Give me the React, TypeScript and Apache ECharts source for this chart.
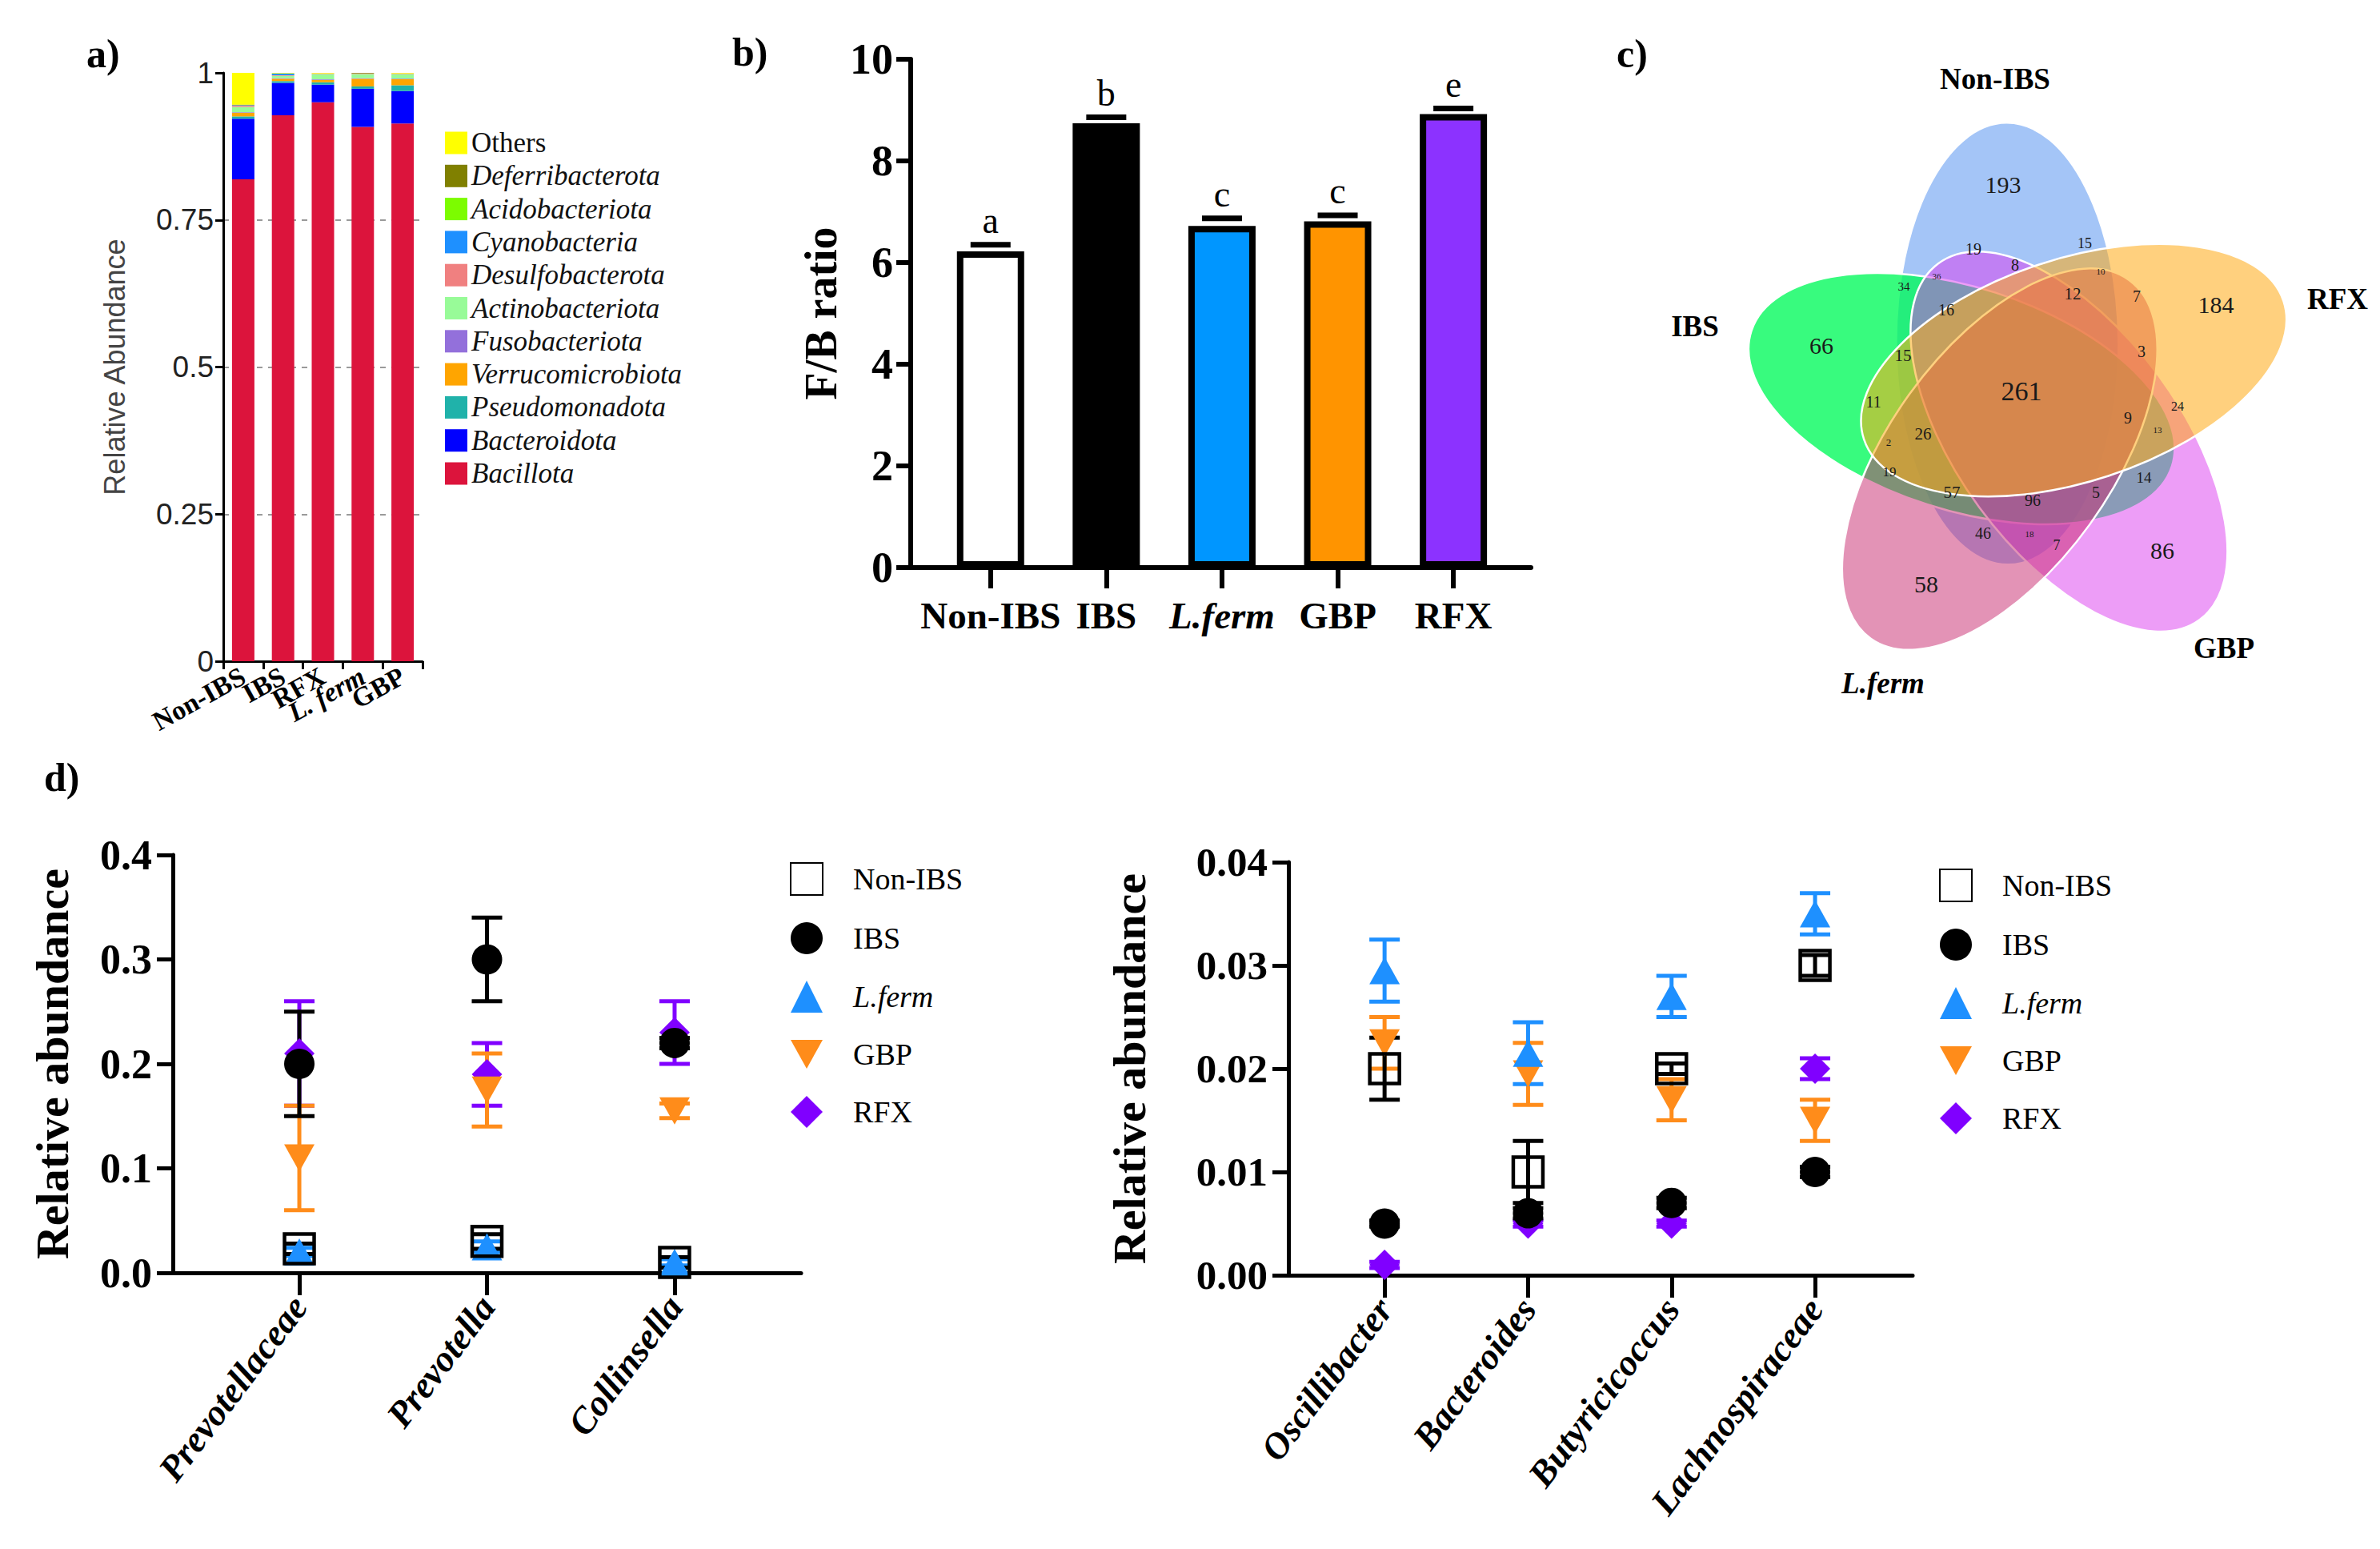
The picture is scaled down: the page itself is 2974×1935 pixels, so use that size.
import React, { useEffect, useRef } from 'react';
import * as echarts from 'echarts';

const SERIF = 'Liberation Serif';
const SANS = 'Liberation Sans';

// ---------- a) relative abundance of phyla ----------
const groupsA = ['Non-IBS', 'IBS', 'RFX', 'L. ferm', 'GBP'];
const phylumNames = ['Bacillota', 'Bacteroidota', 'Pseudomonadota', 'Verrucomicrobiota', 'Fusobacteriota', 'Actinobacteriota', 'Desulfobacterota', 'Cyanobacteria', 'Acidobacteriota', 'Deferribacterota', 'Others'];
const bacillota = [0.819, 0.928, 0.95, 0.908, 0.914];
const bacteroidota = [0.103, 0.055, 0.03, 0.065, 0.055];
const pseudomonadota = [0.004, 0.003, 0.004, 0.004, 0.01];
const verrucomicrobiota = [0.006, 0.004, 0.004, 0.013, 0.01];
const fusobacteriota = [0.001, 0.001, 0.001, 0.001, 0.001];
const actinobacteriota = [0.009, 0.004, 0.009, 0.007, 0.008];
const desulfobacterota = [0.002, 0.001, 0.001, 0.001, 0.001];
const cyanobacteria = [0.001, 0.003, 0.0, 0.0, 0.0];
const acidobacteriota = [0.0, 0.0, 0.0, 0.0, 0.0];
const deferribacterota = [0.001, 0.0, 0.0, 0.001, 0.0];
const others = [0.054, 0.001, 0.001, 0.0, 0.001];
const phylumValues = [bacillota, bacteroidota, pseudomonadota, verrucomicrobiota, fusobacteriota, actinobacteriota, desulfobacterota, cyanobacteria, acidobacteriota, deferribacterota, others];
const phylumColors = ['#dc143c', '#0000ff', '#20b2aa', '#ffa500', '#9370db', '#98fb98', '#f08080', '#1e90ff', '#7cfc00', '#808000', '#ffff00'];

// ---------- b) F/B ratio ----------
const groupsB = ['Non-IBS', 'IBS', 'L.ferm', 'GBP', 'RFX'];
const fbRatio = [6.22, 8.74, 6.72, 6.81, 8.92];
const fbErr = [0.13, 0.12, 0.15, 0.12, 0.11];
const fbLetters = ['a', 'b', 'c', 'c', 'e'];
const fbColors = ['#ffffff', '#000000', '#0096ff', '#ff9400', '#8c32ff'];

// ---------- c) Venn diagram ----------
const vennSets = ['Non-IBS', 'RFX', 'GBP', 'L.ferm', 'IBS'];
const vennColors = ['rgba(90,150,240,0.55)', 'rgba(255,170,20,0.55)', 'rgba(220,60,240,0.5)', 'rgba(200,40,110,0.5)', 'rgba(0,250,90,0.78)'];
const vennDrawOrder = [0, 4, 2, 3, 1];
const vennCounts = [193, 184, 66, 86, 58, 261, 19, 15, 8, 10, 34, 36, 12, 7, 16, 15, 3, 11, 9, 24, 13, 26, 2, 19, 57, 96, 5, 14, 46, 18, 7];
const vennCountPos = [
  [-0.24, -2.73], [2.42, -1.23], [-2.51, -0.72], [1.75, 1.84], [-1.2, 2.26], [-0.01, -0.15],
  [-0.61, -1.92], [0.78, -1.99], [-0.09, -1.72], [0.98, -1.64], [-1.48, -1.45], [-1.07, -1.58],
  [0.63, -1.36], [1.43, -1.33], [-0.95, -1.16], [-1.49, -0.59], [1.49, -0.64], [-1.86, -0.01],
  [1.32, 0.19], [1.94, 0.04], [1.69, 0.34], [-1.24, 0.39], [-1.67, 0.49], [-1.66, 0.86],
  [-0.88, 1.12], [0.13, 1.22], [0.92, 1.12], [1.52, 0.93], [-0.49, 1.63], [0.09, 1.64], [0.43, 1.78],
];
const vennCountSize = [30, 30, 30, 30, 30, 34, 20, 18, 20, 11, 15, 11, 21, 20, 20, 21, 20, 20, 20, 16, 11, 21, 13, 17, 21, 20, 20, 19, 20, 11, 18];
const vennLabelPos = [[-0.34, -4.05], [3.94, -1.3], [2.52, 3.06], [-1.74, 3.5], [-4.09, -0.96]];

// ---------- d) genera ----------
const groupsD = ['Non-IBS', 'IBS', 'L.ferm', 'GBP', 'RFX'];
const generaLeft = ['Prevotellaceae', 'Prevotella', 'Collinsella'];
const leftNonIBS = [0.023, 0.03, 0.01];
const leftNonIBSErr = [0.005, 0.007, 0.005];
const leftIBS = [0.2, 0.3, 0.22];
const leftIBSErr = [0.05, 0.04, 0.005];
const leftLFerm = [0.02, 0.025, 0.01];
const leftLFermErr = [0.004, 0.005, 0.003];
const leftGBP = [0.11, 0.175, 0.155];
const leftGBPErr = [0.05, 0.035, 0.007];
const leftRFX = [0.21, 0.19, 0.23];
const leftRFXErr = [0.05, 0.03, 0.03];

const generaRight = ['Oscillibacter', 'Bacteroides', 'Butyricicoccus', 'Lachnospiraceae'];
const rightNonIBS = [0.02, 0.01, 0.02, 0.03];
const rightNonIBSErr = [0.003, 0.003, 0.0005, 0.001];
const rightIBS = [0.005, 0.006, 0.007, 0.01];
const rightIBSErr = [0.0003, 0.0005, 0.0005, 0.0005];
const rightLFerm = [0.0295, 0.0215, 0.027, 0.035];
const rightLFermErr = [0.003, 0.003, 0.002, 0.002];
const rightGBP = [0.0225, 0.0195, 0.017, 0.015];
const rightGBPErr = [0.0025, 0.003, 0.002, 0.002];
const rightRFX = [0.001, 0.005, 0.005, 0.02];
const rightRFXErr = [0.0003, 0.0003, 0.0003, 0.001];

const groupColors: Record<string, string> = {
  'Non-IBS': '#000000',
  IBS: '#000000',
  'L.ferm': '#1e90ff',
  GBP: '#ff8c1a',
  RFX: '#8000ff',
};

const INV_TRIANGLE = 'path://M0,0 L10,0 L5,9 Z';

function errorSeries(name: string, axis: number, means: number[], errs: number[], color: string) {
  return {
    type: 'custom',
    name,
    xAxisIndex: axis,
    yAxisIndex: axis,
    silent: true,
    data: means.map((m, i) => [i, m - errs[i], m + errs[i]]),
    encode: { x: 0, y: [1, 2] },
    renderItem: (params: any, api: any) => {
      const x = api.value(0);
      const lo = api.coord([x, api.value(1)]);
      const hi = api.coord([x, api.value(2)]);
      const w = 19;
      const st = { stroke: color, lineWidth: 5 };
      return {
        type: 'group',
        children: [
          { type: 'line', shape: { x1: lo[0], y1: lo[1], x2: hi[0], y2: hi[1] }, style: st },
          { type: 'line', shape: { x1: lo[0] - w, y1: lo[1], x2: lo[0] + w, y2: lo[1] }, style: st },
          { type: 'line', shape: { x1: hi[0] - w, y1: hi[1], x2: hi[0] + w, y2: hi[1] }, style: st },
        ],
      };
    },
  };
}

function markerSeries(name: string, axis: number, means: number[]) {
  const base: any = {
    type: 'scatter',
    name,
    xAxisIndex: axis,
    yAxisIndex: axis,
    data: means.map((m, i) => [i, m]),
    symbolSize: 38,
  };
  if (name === 'Non-IBS') {
    base.symbol = 'rect';
    base.symbolSize = 37;
    base.itemStyle = { color: 'rgba(255,255,255,0)', borderColor: '#000', borderWidth: 4.5, opacity: 1 };
  } else if (name === 'IBS') {
    base.symbol = 'circle';
    base.itemStyle = { color: '#000', opacity: 1 };
  } else if (name === 'L.ferm') {
    base.symbol = 'triangle';
    base.symbolSize = [38, 34];
    base.itemStyle = { color: groupColors['L.ferm'], opacity: 1 };
  } else if (name === 'GBP') {
    base.symbol = INV_TRIANGLE;
    base.symbolSize = [38, 34];
    base.itemStyle = { color: groupColors.GBP, opacity: 1 };
  } else {
    base.symbol = 'diamond';
    base.itemStyle = { color: groupColors.RFX, opacity: 1 };
  }
  return base;
}

function panelDSeries(axis: number, sets: Record<string, [number[], number[]]>) {
  const order = ['RFX', 'GBP', 'L.ferm', 'IBS', 'Non-IBS'];
  const out: any[] = [];
  order.forEach((g) => {
    const [m, e] = sets[g];
    out.push(errorSeries(`${g} SEM ${axis}`, axis, m, e, groupColors[g]));
    out.push(markerSeries(g, axis, m));
  });
  return out;
}

function legendD(left: number, top: number) {
  return {
    orient: 'vertical',
    left,
    top,
    itemWidth: 40,
    itemHeight: 40,
    itemGap: 33,
    selectedMode: false,
    data: groupsD,
    formatter: (n: string) => (n === 'L.ferm' ? `{i|${n}}` : `{n|${n}}`),
    textStyle: {
      fontFamily: SERIF,
      fontSize: 38,
      color: '#000',
      padding: [0, 0, 0, 33],
      rich: {
        n: { fontFamily: SERIF, fontSize: 38, color: '#000', lineHeight: 40 },
        i: { fontFamily: SERIF, fontSize: 38, color: '#000', fontStyle: 'italic', lineHeight: 40 },
      },
    },
  };
}

const axisLineBlack = (w: number) => ({ show: true, onZero: false, lineStyle: { color: '#000', width: w } });

export default function App() {
  const ref = useRef<HTMLDivElement>(null);
  useEffect(() => {
    if (!ref.current) return;
    const chart = echarts.init(ref.current, undefined, { renderer: 'svg' });

    const boldTick = { fontFamily: SERIF, fontWeight: 'bold', color: '#000' };

    const seriesA = phylumNames.map((n, k) => ({
      type: 'bar',
      name: n,
      stack: 'phyla',
      xAxisIndex: 0,
      yAxisIndex: 0,
      barWidth: 28,
      itemStyle: { color: phylumColors[k] },
      data: phylumValues[k],
    }));

    const seriesB = [
      {
        type: 'bar',
        name: 'F/B ratio',
        xAxisIndex: 1,
        yAxisIndex: 1,
        barWidth: 84,
        data: fbRatio.map((v, i) => ({ value: [i, v], itemStyle: { color: fbColors[i] } })),
        itemStyle: { borderColor: '#000', borderWidth: 8 },
      },
      {
        type: 'custom',
        name: 'F/B SEM',
        xAxisIndex: 1,
        yAxisIndex: 1,
        silent: true,
        data: fbRatio.map((v, i) => [i, v + fbErr[i]]),
        encode: { x: 0, y: 1 },
        renderItem: (params: any, api: any) => {
          const p = api.coord([api.value(0), api.value(1)]);
          return {
            type: 'group',
            children: [
              { type: 'line', shape: { x1: p[0] - 25, y1: p[1], x2: p[0] + 25, y2: p[1] }, style: { stroke: '#000', lineWidth: 7 } },
              {
                type: 'text',
                x: p[0],
                y: p[1] - 30,
                style: { text: fbLetters[params.dataIndex], fontFamily: SERIF, fontSize: 46, fill: '#000', align: 'center', verticalAlign: 'middle' },
              },
            ],
          };
        },
      },
    ];

    const toRad = Math.PI / 180;
    const seriesVenn = [
      {
        type: 'custom',
        name: 'venn-sets',
        xAxisIndex: 4,
        yAxisIndex: 4,
        silent: true,
        data: vennDrawOrder.map((k) => [k, 0]),
        renderItem: (params: any, api: any) => {
          const k = api.value(0);
          const theta = (-104.2 + 72 * k) * toRad;
          const alpha = theta + 14 * toRad;
          const p = api.coord([0.76 * Math.cos(theta), 0.76 * Math.sin(theta)]);
          const s = api.size([2.76, 1.39]);
          return {
            type: 'ellipse',
            x: p[0],
            y: p[1],
            rotation: -alpha,
            shape: { cx: 0, cy: 0, rx: Math.abs(s[0]), ry: Math.abs(s[1]) },
            style: { fill: vennColors[k], stroke: '#ffffff', lineWidth: 2.5 },
          };
        },
      },
      {
        type: 'custom',
        name: 'venn-counts',
        xAxisIndex: 4,
        yAxisIndex: 4,
        silent: true,
        data: vennCountPos.map((p, i) => [p[0], p[1], vennCounts[i]]),
        renderItem: (params: any, api: any) => {
          const p = api.coord([api.value(0), api.value(1)]);
          return {
            type: 'text',
            x: p[0],
            y: p[1],
            style: { text: String(api.value(2)), fontFamily: SERIF, fontSize: vennCountSize[params.dataIndex], fill: '#1a1a1a', align: 'center', verticalAlign: 'middle' },
          };
        },
      },
      {
        type: 'custom',
        name: 'venn-labels',
        xAxisIndex: 4,
        yAxisIndex: 4,
        silent: true,
        data: vennLabelPos.map((p) => [p[0], p[1]]),
        renderItem: (params: any, api: any) => {
          const p = api.coord([api.value(0), api.value(1)]);
          const name = vennSets[params.dataIndex];
          return {
            type: 'text',
            x: p[0],
            y: p[1],
            style: {
              text: name,
              fontFamily: SERIF,
              fontSize: 37,
              fontWeight: 'bold',
              fontStyle: name === 'L.ferm' ? 'italic' : 'normal',
              fill: '#000',
              align: 'center',
              verticalAlign: 'middle',
            },
          };
        },
      },
    ];

    const seriesDL = panelDSeries(2, {
      'Non-IBS': [leftNonIBS, leftNonIBSErr],
      IBS: [leftIBS, leftIBSErr],
      'L.ferm': [leftLFerm, leftLFermErr],
      GBP: [leftGBP, leftGBPErr],
      RFX: [leftRFX, leftRFXErr],
    });
    const seriesDR = panelDSeries(3, {
      'Non-IBS': [rightNonIBS, rightNonIBSErr],
      IBS: [rightIBS, rightIBSErr],
      'L.ferm': [rightLFerm, rightLFermErr],
      GBP: [rightGBP, rightGBPErr],
      RFX: [rightRFX, rightRFXErr],
    });

    const titleStyle = { fontFamily: SERIF, fontSize: 50, fontWeight: 'bold', color: '#000' };

    const option: any = {
      animation: false,
      backgroundColor: '#ffffff',
      textStyle: { fontFamily: SERIF },
      title: [
        { text: 'a)', left: 108, top: 42, padding: 0, textStyle: titleStyle },
        { text: 'b)', left: 915, top: 40, padding: 0, textStyle: titleStyle },
        { text: 'c)', left: 2020, top: 42, padding: 0, textStyle: titleStyle },
        { text: 'd)', left: 55, top: 946, padding: 0, textStyle: titleStyle },
      ],
      legend: [
        {
          orient: 'vertical',
          left: 551,
          top: 156,
          itemWidth: 28,
          itemHeight: 28,
          itemGap: 6.3,
          icon: 'rect',
          selectedMode: false,
          data: [...phylumNames].reverse(),
          formatter: (n: string) => (n === 'Others' ? `{n|${n}}` : `{i|${n}}`),
          textStyle: {
            fontFamily: SERIF,
            fontSize: 35,
            color: '#111',
            rich: {
              n: { fontFamily: SERIF, fontSize: 35, color: '#111', lineHeight: 28 },
              i: { fontFamily: SERIF, fontSize: 35, color: '#111', fontStyle: 'italic', lineHeight: 28 },
            },
          },
        },
        legendD(982, 1072),
        legendD(2418, 1080),
      ],
      grid: [
        { left: 279, top: 91, width: 249, height: 735 },
        { left: 1138, top: 74, width: 775, height: 635 },
        { left: 216, top: 1068, width: 785, height: 522 },
        { left: 1610, top: 1077, width: 780, height: 516 },
        { left: 2127, top: 103, width: 800, height: 800 },
      ],
      xAxis: [
        {
          type: 'category',
          gridIndex: 0,
          data: groupsA,
          boundaryGap: true,
          axisLine: axisLineBlack(3),
          axisTick: { show: true, length: 10, lineStyle: { color: '#000', width: 3 } },
          axisLabel: {
            rotate: 29,
            margin: 16,
            fontFamily: SERIF,
            fontSize: 34,
            fontWeight: 'bold',
            color: '#000',
            interval: 0,
            formatter: (v: string) => (v === 'L. ferm' ? `{i|${v}}` : v),
            rich: { i: { fontFamily: SERIF, fontSize: 34, fontWeight: 'bold', fontStyle: 'italic', color: '#000' } },
          },
        },
        {
          type: 'value',
          gridIndex: 1,
          min: -0.69,
          max: 4.67,
          splitLine: { show: false },
          axisLine: axisLineBlack(6),
          axisTick: { show: true, customValues: [0, 1, 2, 3, 4], length: 26, lineStyle: { color: '#000', width: 6 } },
          axisLabel: {
            customValues: [0, 1, 2, 3, 4],
            margin: 36,
            fontFamily: SERIF,
            fontSize: 47,
            fontWeight: 'bold',
            color: '#000',
            formatter: (v: number) => {
              const n = groupsB[Math.round(v)] ?? '';
              return n === 'L.ferm' ? `{i|${n}}` : n;
            },
            rich: { i: { fontFamily: SERIF, fontSize: 47, fontWeight: 'bold', fontStyle: 'italic', color: '#000' } },
          },
        },
        {
          type: 'value',
          gridIndex: 2,
          min: -0.674,
          max: 2.674,
          splitLine: { show: false },
          axisLine: axisLineBlack(5),
          axisTick: { show: true, customValues: [0, 1, 2], length: 28, lineStyle: { color: '#000', width: 5 } },
          axisLabel: {
            customValues: [0, 1, 2],
            rotate: 53,
            margin: 34,
            fontFamily: SERIF,
            fontSize: 46,
            fontWeight: 'bold',
            fontStyle: 'italic',
            color: '#000',
            formatter: (v: number) => generaLeft[Math.round(v)] ?? '',
          },
        },
        {
          type: 'value',
          gridIndex: 3,
          min: -0.67,
          max: 3.68,
          splitLine: { show: false },
          axisLine: axisLineBlack(5),
          axisTick: { show: true, customValues: [0, 1, 2, 3], length: 28, lineStyle: { color: '#000', width: 5 } },
          axisLabel: {
            customValues: [0, 1, 2, 3],
            rotate: 53,
            margin: 34,
            fontFamily: SERIF,
            fontSize: 46,
            fontWeight: 'bold',
            fontStyle: 'italic',
            color: '#000',
            formatter: (v: number) => generaRight[Math.round(v)] ?? '',
          },
        },
        { type: 'value', gridIndex: 4, min: -4, max: 4, show: false },
      ],
      yAxis: [
        {
          type: 'value',
          gridIndex: 0,
          min: 0,
          max: 1,
          interval: 0.25,
          name: 'Relative Abundance',
          nameLocation: 'middle',
          nameGap: 118,
          nameTextStyle: { fontFamily: SANS, fontSize: 36, color: '#444' },
          axisLine: axisLineBlack(3),
          axisTick: { show: true, length: 10, lineStyle: { color: '#000', width: 3 } },
          axisLabel: {
            margin: 12,
            fontFamily: SANS,
            fontSize: 37,
            color: '#222',
            formatter: (v: number) => String(v),
          },
          splitLine: { show: true, showMinLine: false, showMaxLine: false, lineStyle: { type: [7, 7], color: '#9a9a9a', width: 2 } },
        },
        {
          type: 'value',
          gridIndex: 1,
          min: 0,
          max: 10,
          interval: 2,
          name: 'F/B ratio',
          nameLocation: 'middle',
          nameGap: 84,
          nameTextStyle: { fontFamily: SERIF, fontSize: 56, fontWeight: 'bold', color: '#000' },
          axisLine: axisLineBlack(6),
          axisTick: { show: true, length: 18, lineStyle: { color: '#000', width: 6 } },
          axisLabel: { margin: 22, fontSize: 54, ...boldTick },
          splitLine: { show: false },
        },
        {
          type: 'value',
          gridIndex: 2,
          min: 0,
          max: 0.4,
          interval: 0.1,
          name: 'Relative abundance',
          nameLocation: 'middle',
          nameGap: 122,
          nameTextStyle: { fontFamily: SERIF, fontSize: 58, fontWeight: 'bold', color: '#000' },
          axisLine: axisLineBlack(5),
          axisTick: { show: true, length: 20, lineStyle: { color: '#000', width: 5 } },
          axisLabel: { margin: 26, fontSize: 52, ...boldTick, formatter: (v: number) => v.toFixed(1) },
          splitLine: { show: false },
        },
        {
          type: 'value',
          gridIndex: 3,
          min: 0,
          max: 0.04,
          interval: 0.01,
          name: 'Relative abundance',
          nameLocation: 'middle',
          nameGap: 170,
          nameTextStyle: { fontFamily: SERIF, fontSize: 58, fontWeight: 'bold', color: '#000' },
          axisLine: axisLineBlack(5),
          axisTick: { show: true, length: 20, lineStyle: { color: '#000', width: 5 } },
          axisLabel: { margin: 26, fontSize: 51, ...boldTick, formatter: (v: number) => v.toFixed(2) },
          splitLine: { show: false },
        },
        { type: 'value', gridIndex: 4, min: -4, max: 4, inverse: true, show: false },
      ],
      series: [...seriesA, ...seriesB, ...seriesVenn, ...seriesDL, ...seriesDR],
    };

    chart.setOption(option);
    return () => chart.dispose();
  }, []);

  return <div ref={ref} style={{ position: 'absolute', left: 0, top: 0, width: 2974, height: 1935, background: '#fff' }} />;
}
